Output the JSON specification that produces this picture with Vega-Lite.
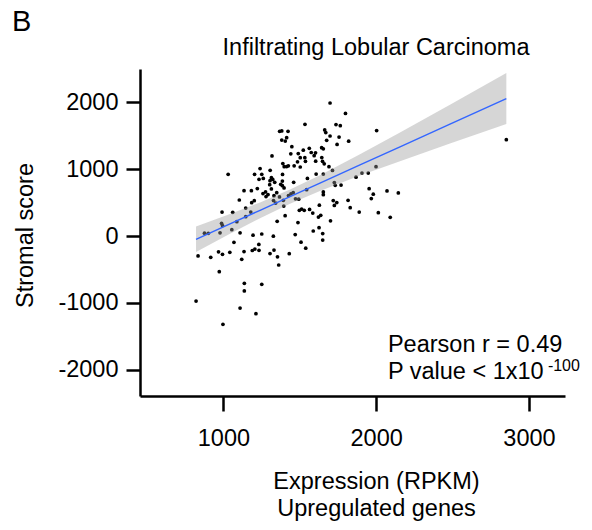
{
  "$schema": "https://vega.github.io/schema/vega-lite/v6.json",
  "autosize": {"type": "none"},
  "padding": {"left": 140, "top": 69, "right": 27, "bottom": 134},
  "width": 425,
  "height": 327,
  "datasets": {
    "pts": [
      {"x":1698,"y":1991},{"x":1799,"y":1834},{"x":1534,"y":1672},{"x":1737,"y":1669},{"x":1765,"y":1651},{"x":1368,"y":1567},{"x":1382,"y":1572},{"x":1423,"y":1567},{"x":1663,"y":1587},{"x":1670,"y":1549},{"x":2003,"y":1579},{"x":2852,"y":1442},{"x":1414,"y":1472},{"x":1405,"y":1422},{"x":1382,"y":1437},{"x":1698,"y":1497},{"x":1676,"y":1433},{"x":1757,"y":1482},{"x":1820,"y":1419},{"x":1744,"y":1370},{"x":1448,"y":1337},{"x":1643,"y":1322},{"x":1654,"y":1305},{"x":1523,"y":1284},{"x":1562,"y":1313},{"x":1575,"y":1250},{"x":1490,"y":1235},{"x":1441,"y":1231},{"x":1594,"y":1202},{"x":1603,"y":1245},{"x":1318,"y":1198},{"x":1503,"y":1172},{"x":1533,"y":1172},{"x":1644,"y":1175},{"x":1649,"y":1118},{"x":1485,"y":1111},{"x":1537,"y":1118},{"x":1604,"y":1120},{"x":1660,"y":1081},{"x":1389,"y":1085},{"x":1398,"y":1037},{"x":1414,"y":1040},{"x":1425,"y":1051},{"x":1463,"y":1051},{"x":1503,"y":1033},{"x":1691,"y":1037},{"x":1999,"y":1037},{"x":1240,"y":1010},{"x":1306,"y":984},{"x":1031,"y":924},{"x":1204,"y":924},{"x":1251,"y":924},{"x":1387,"y":921},{"x":1607,"y":928},{"x":1654,"y":928},{"x":1714,"y":981},{"x":1907,"y":943},{"x":1948,"y":943},{"x":1868,"y":880},{"x":1550,"y":861},{"x":1261,"y":861},{"x":1233,"y":849},{"x":1314,"y":873},{"x":1323,"y":846},{"x":1305,"y":828},{"x":1386,"y":823},{"x":1460,"y":804},{"x":1336,"y":804},{"x":1375,"y":774},{"x":1386,"y":753},{"x":1397,"y":719},{"x":1303,"y":768},{"x":1314,"y":704},{"x":1135,"y":678},{"x":1183,"y":678},{"x":1222,"y":711},{"x":1726,"y":801},{"x":1732,"y":759},{"x":1770,"y":763},{"x":1954,"y":708},{"x":2071,"y":674},{"x":2145,"y":644},{"x":1981,"y":626},{"x":1968,"y":561},{"x":1545,"y":693},{"x":1654,"y":659},{"x":1654,"y":618},{"x":1349,"y":648},{"x":1259,"y":636},{"x":1276,"y":659},{"x":1279,"y":591},{"x":1292,"y":621},{"x":1331,"y":603},{"x":1426,"y":606},{"x":1442,"y":629},{"x":1457,"y":648},{"x":1367,"y":584},{"x":1472,"y":557},{"x":1493,"y":551},{"x":1328,"y":531},{"x":1392,"y":534},{"x":1104,"y":539},{"x":1185,"y":498},{"x":1202,"y":528},{"x":1342,"y":494},{"x":1146,"y":419},{"x":1719,"y":531},{"x":1742,"y":501},{"x":1726,"y":457},{"x":1816,"y":534},{"x":1830,"y":424},{"x":1628,"y":461},{"x":1395,"y":449},{"x":1497,"y":385},{"x":1512,"y":404},{"x":1529,"y":385},{"x":1564,"y":397},{"x":1585,"y":344},{"x":1622,"y":284},{"x":1637,"y":310},{"x":1889,"y":359},{"x":2014,"y":349},{"x":2092,"y":280},{"x":1404,"y":304},{"x":1352,"y":220},{"x":1488,"y":202},{"x":1701,"y":228},{"x":991,"y":359},{"x":1061,"y":355},{"x":1146,"y":289},{"x":1179,"y":359},{"x":1088,"y":214},{"x":988,"y":190},{"x":994,"y":157},{"x":876,"y":42},{"x":901,"y":40},{"x":978,"y":48},{"x":1055,"y":94},{"x":1109,"y":48},{"x":1194,"y":12},{"x":1251,"y":30},{"x":1327,"y":-3},{"x":1470,"y":22},{"x":1588,"y":75},{"x":1626,"y":124},{"x":1650,"y":37},{"x":1650,"y":-60},{"x":834,"y":-299},{"x":917,"y":-319},{"x":968,"y":-237},{"x":994,"y":-274},{"x":1042,"y":-244},{"x":1069,"y":-94},{"x":1120,"y":-349},{"x":1135,"y":-232},{"x":1189,"y":-217},{"x":1206,"y":-195},{"x":1233,"y":-214},{"x":1232,"y":-127},{"x":1305,"y":-262},{"x":1331,"y":-210},{"x":1354,"y":-311},{"x":1362,"y":-434},{"x":1431,"y":-265},{"x":1508,"y":-93},{"x":1539,"y":-183},{"x":973,"y":-534},{"x":1137,"y":-708},{"x":1137,"y":-823},{"x":1251,"y":-723},{"x":821,"y":-973},{"x":1109,"y":-1078},{"x":1213,"y":-1163},{"x":997,"y":-1322}
    ],
    "band": [
      {"x":820.7,"lo":-241,"hi":142,"fit":-49},
      {"x":1043,"lo":34,"hi":328,"fit":181},
      {"x":1240,"lo":267,"hi":503,"fit":385},
      {"x":1436,"lo":482,"hi":695,"fit":588},
      {"x":1632,"lo":674,"hi":910,"fit":792},
      {"x":1894,"lo":905,"hi":1224,"fit":1064},
      {"x":2156,"lo":1120,"hi":1550,"fit":1335},
      {"x":2483,"lo":1384,"hi":1966,"fit":1675},
      {"x":2852,"lo":1675,"hi":2439,"fit":2057}
    ],
    "labels": [
      {"label": "Infiltrating Lobular Carcinoma", "lx": 1999, "ly": 2710, "kind": "title"},
      {"label": "B", "lx": -384, "ly": 3069, "kind": "panel"},
      {"label": "Pearson r = 0.49", "lx": 2077, "ly": -1732, "kind": "note"},
      {"label": "P value < 1x10", "lx": 2077, "ly": -2141, "kind": "note"},
      {"label": "-100", "lx": 3124, "ly": -2021, "kind": "sup"}
    ]
  },
  "layer": [
    {
      "data": {"name": "pts"},
      "mark": {"type": "circle", "color": "black", "opacity": 1, "size": 14},
      "encoding": {
        "x": {"field": "x", "type": "quantitative", "scale": {"domain": [454, 3236], "nice": false, "zero": false},
          "axis": {"title": ["Expression (RPKM)", "Upregulated genes"], "values": [1000, 2000, 3000], "labelExpr": "(datum.value < 0 ? '-' : '') + abs(datum.value)", "grid": false, "domainColor": "black", "domainWidth": 2.5, "tickColor": "black", "tickWidth": 2.5, "tickSize": 15, "labelFontSize": 23.5, "labelColor": "black", "labelPadding": 34, "labelBaseline": "alphabetic", "labelFont": "Liberation Sans", "labelFlush": false, "labelOverlap": false, "titleFont": "Liberation Sans", "titleFontSize": 23.5, "titleFontWeight": "normal", "titleColor": "black", "titleX": 236, "titleY": 92, "titleBaseline": "alphabetic", "titleLineHeight": 27, "titleAlign": "center"}},
        "y": {"field": "y", "type": "quantitative", "scale": {"domain": [-2395, 2500], "nice": false, "zero": false},
          "axis": {"title": "Stromal score", "values": [-2000, -1000, 0, 1000, 2000], "labelExpr": "(datum.value < 0 ? '-' : '') + abs(datum.value)", "grid": false, "domainColor": "black", "domainWidth": 2.5, "tickColor": "black", "tickWidth": 2.5, "tickSize": 14, "labelFontSize": 23.5, "labelColor": "black", "labelPadding": 8, "labelFont": "Liberation Sans", "labelFlush": false, "labelOverlap": false, "titleFont": "Liberation Sans", "titleFontSize": 23.5, "titleFontWeight": "normal", "titleColor": "black", "titleX": -115, "titleY": 166, "titleAngle": 270, "titleBaseline": "middle", "titleAlign": "center"}}
      }
    },
    {
      "data": {"name": "band"},
      "mark": {"type": "area", "color": "#999999", "opacity": 0.4},
      "encoding": {
        "x": {"field": "x", "type": "quantitative"},
        "y": {"field": "lo", "type": "quantitative"},
        "y2": {"field": "hi"}
      }
    },
    {
      "data": {"name": "band"},
      "mark": {"type": "line", "color": "#3366FF", "strokeWidth": 1.4},
      "encoding": {
        "x": {"field": "x", "type": "quantitative"},
        "y": {"field": "fit", "type": "quantitative"}
      }
    },
    {
      "data": {"name": "labels"},
      "transform": [{"filter": "datum.kind === 'note'"}],
      "mark": {"type": "text", "align": "left", "baseline": "alphabetic", "fontSize": 23.5, "font": "Liberation Sans", "color": "black"},
      "encoding": {"x": {"field": "lx", "type": "quantitative"}, "y": {"field": "ly", "type": "quantitative"}, "text": {"field": "label"}}
    },
    {
      "data": {"name": "labels"},
      "transform": [{"filter": "datum.kind === 'sup'"}],
      "mark": {"type": "text", "align": "left", "baseline": "alphabetic", "fontSize": 16, "font": "Liberation Sans", "color": "black"},
      "encoding": {"x": {"field": "lx", "type": "quantitative"}, "y": {"field": "ly", "type": "quantitative"}, "text": {"field": "label"}}
    },
    {
      "data": {"name": "labels"},
      "transform": [{"filter": "datum.kind === 'panel'"}],
      "mark": {"type": "text", "align": "left", "baseline": "alphabetic", "fontSize": 29, "font": "Liberation Sans", "color": "black"},
      "encoding": {"x": {"field": "lx", "type": "quantitative"}, "y": {"field": "ly", "type": "quantitative"}, "text": {"field": "label"}}
    },
    {
      "data": {"name": "labels"},
      "transform": [{"filter": "datum.kind === 'title'"}],
      "mark": {"type": "text", "align": "center", "baseline": "alphabetic", "fontSize": 23.5, "font": "Liberation Sans", "color": "black"},
      "encoding": {"x": {"field": "lx", "type": "quantitative"}, "y": {"field": "ly", "type": "quantitative"}, "text": {"field": "label"}}
    }
  ],
  "config": {"view": {"stroke": null}, "font": "Liberation Sans"}
}
